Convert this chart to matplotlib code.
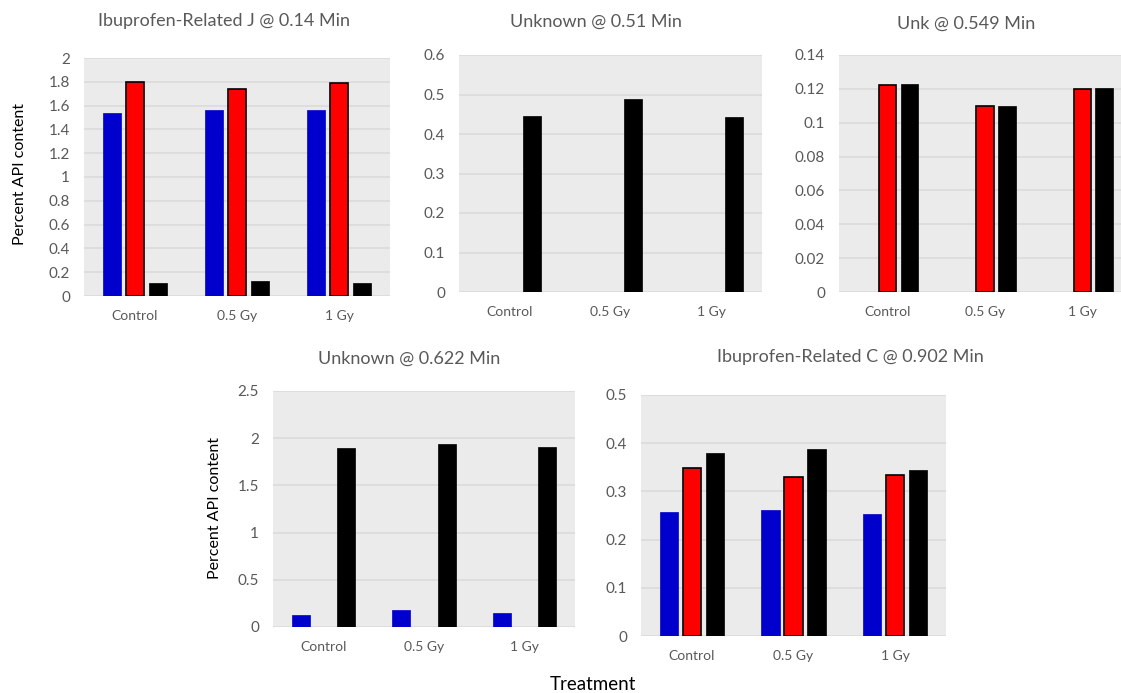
import numpy as np
import matplotlib.pyplot as plt

plt.rcParams['font.family'] = ['Lato', 'DejaVu Sans']

treatments = ["Control", "0.5 Gy", "1 Gy"]

# each panel: blue, red, black series (None = no bar)
j_blue = [1.54, 1.56, 1.56]
j_red = [1.80, 1.74, 1.79]
j_black = [0.11, 0.13, 0.11]

u051_black = [0.446, 0.488, 0.442]

u549_red = [0.1225, 0.110, 0.120]
u549_black = [0.1227, 0.110, 0.1203]

u622_blue = [0.13, 0.183, 0.148]
u622_black = [1.897, 1.936, 1.904]

c_blue = [0.258, 0.262, 0.254]
c_red = [0.349, 0.330, 0.334]
c_black = [0.380, 0.389, 0.345]

W, H = 1121, 693
fig = plt.figure(figsize=(W / 100, H / 100), dpi=100)


def px_axes(x0, x1, ytop, ybot):
    return fig.add_axes([x0 / W, 1 - ybot / H, (x1 - x0) / W, (ybot - ytop) / H])


def panel(ax, title, tx, ty, blue, red, black, ymax, step, fmt):
    x = np.arange(len(treatments))
    off = 0.225
    w = 0.18
    if blue is not None:
        ax.bar(x - off, blue, w, color="#0000CC", edgecolor="#0000CC", linewidth=0.5, zorder=3)
    if red is not None:
        ax.bar(x, red, w, color="#FF0000", edgecolor="black", linewidth=1.2, zorder=3)
    if black is not None:
        ax.bar(x + off, black, w, color="black", edgecolor="black", linewidth=0.5, zorder=3)
    ax.set_facecolor("#EBEBEB")
    ax.set_xlim(-0.5, len(treatments) - 0.5)
    ax.set_ylim(0, ymax)
    ticks = np.arange(0, ymax + step / 2, step)
    ax.set_yticks(ticks)
    ax.set_yticklabels([fmt(t) for t in ticks])
    ax.set_xticks(x)
    ax.set_xticklabels(treatments)
    ax.grid(axis="y", color="#DADADA", linewidth=1.1, zorder=0)
    ax.set_axisbelow(True)
    for s in ax.spines.values():
        s.set_visible(False)
    ax.tick_params(axis="y", length=0, pad=10, labelsize=11, labelcolor="#595959")
    ax.tick_params(axis="x", length=0, pad=10, labelsize=10, labelcolor="#595959")
    fig.text(tx / W, 1 - ty / H, title, ha="center", va="center", fontsize=13, color="#595959")


def gfmt(v):
    return "%g" % round(v, 3)


ax1 = px_axes(84, 390, 58, 296)
panel(ax1, "Ibuprofen-Related J @ 0.14 Min", 224, 21, j_blue, j_red, j_black, 2, 0.2, gfmt)

ax2 = px_axes(459, 762, 55, 292)
panel(ax2, "Unknown @ 0.51 Min", 596, 22, None, None, u051_black, 0.6, 0.1, gfmt)

ax3 = px_axes(839, 1131, 55, 292)
panel(ax3, "Unk @ 0.549 Min", 966, 24, None, u549_red, u549_black, 0.14, 0.02, gfmt)

ax4 = px_axes(273, 575, 391, 627)
panel(ax4, "Unknown @ 0.622 Min", 409, 359, u622_blue, None, u622_black, 2.5, 0.5, gfmt)

ax5 = px_axes(641, 946, 395, 636)
panel(ax5, "Ibuprofen-Related C @ 0.902 Min", 850, 357, c_blue, c_red, c_black, 0.5, 0.1, gfmt)

fig.text(20 / W, 1 - 174 / H, "Percent API content", rotation=90, ha="center", va="center",
         fontsize=11.5, color="black")
fig.text(215 / W, 1 - 508 / H, "Percent API content", rotation=90, ha="center", va="center",
         fontsize=11.5, color="black")
fig.text(593 / W, 1 - 685 / H, "Treatment", ha="center", va="center", fontsize=13.5, color="black")

fig.savefig("out.png", dpi=100)
